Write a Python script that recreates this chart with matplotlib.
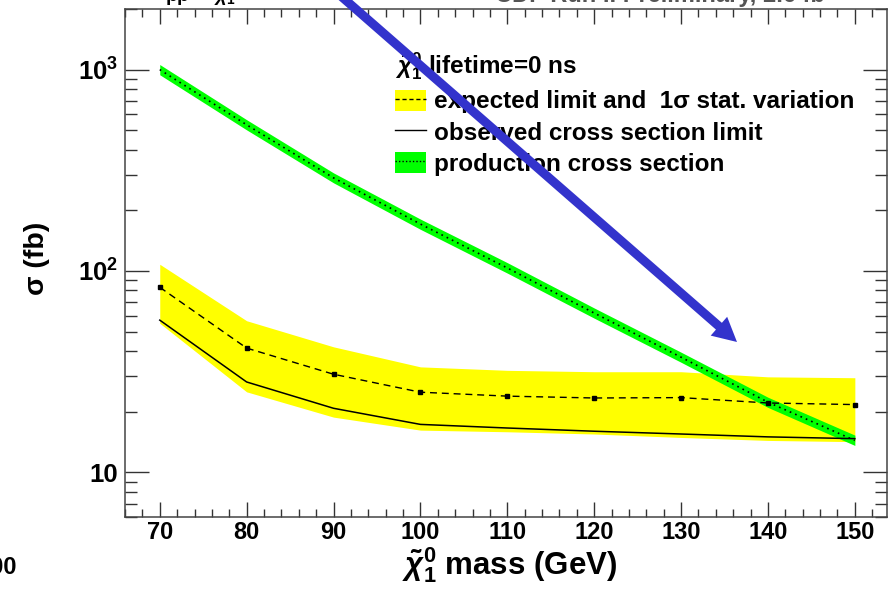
import matplotlib
matplotlib.use('Agg')
import matplotlib.pyplot as plt
import matplotlib.transforms as mtrans
from matplotlib.patches import Patch, FancyArrow
from matplotlib.lines import Line2D
from matplotlib.legend_handler import HandlerTuple
from matplotlib.ticker import FixedLocator, FuncFormatter, LogLocator, MultipleLocator, NullFormatter
import numpy as np

plt.rcParams['font.family'] = ['Liberation Sans', 'DejaVu Sans']
plt.rcParams['font.weight'] = 'bold'
plt.rcParams['axes.labelweight'] = 'bold'
plt.rcParams['mathtext.fontset'] = 'custom'
plt.rcParams['mathtext.rm'] = 'Liberation Sans:bold'
plt.rcParams['mathtext.bf'] = 'Liberation Sans:bold'
plt.rcParams['mathtext.it'] = 'Liberation Sans:italic'
plt.rcParams['mathtext.default'] = 'bf'

# neutralino mass (GeV) and cross sections (fb)
mass = [70, 80, 90, 100, 110, 120, 130, 140, 150]
expected = [83, 41.4, 30.7, 25.0, 23.9, 23.4, 23.5, 22.1, 21.7]
exp_hi = [108, 56.6, 42, 33.4, 32.1, 31.6, 31.6, 29.8, 29.5]
exp_lo = [55, 25.1, 18.8, 16.2, 15.9, 15.5, 14.9, 14.4, 14.2]
observed = [57, 28.1, 20.8, 17.3, 16.6, 16.0, 15.5, 15.0, 14.7]
prod = [1000, 532, 290, 171, 103.5, 61.8, 37.3, 22.3, 14.4]
prod_hi = [1060, 564, 307, 181, 110, 65.5, 39.5, 23.6, 15.3]
prod_lo = [943, 502, 274, 161, 97.6, 58.3, 35.2, 21.0, 13.6]

labels = ['expected limit and  1σ stat. variation',
          'observed cross section limit',
          'production cross section']
legend_title = r'$\mathit{\tilde{\chi}}_{1}^{0}$ lifetime=0 ns'

fig = plt.figure(figsize=(8.91, 5.99), dpi=100)
ax = fig.add_axes([125/891, 82/599, 762/891, 508/599])

ax.fill_between(mass, exp_lo, exp_hi, color='#ffff00', lw=0, zorder=1)
ax.plot(mass, expected, color='black', lw=1, ls=(0, (5, 3.5)), marker='s', ms=3, zorder=3)
ax.plot(mass, observed, color='black', lw=1.1, zorder=3)
ax.fill_between(mass, prod_lo, prod_hi, color='#00ff00', lw=0, zorder=2)
ax.plot(mass, prod, color='black', lw=1.2, ls=(0, (1, 2.5)), zorder=4)

ax.set_yscale('log')
ax.set_xlim(66, 153.7)
ax.set_ylim(6, 2000)

ax.xaxis.set_major_locator(MultipleLocator(10))
ax.xaxis.set_minor_locator(MultipleLocator(2))
ax.yaxis.set_major_locator(FixedLocator([10, 100, 1000]))
ax.yaxis.set_minor_locator(LogLocator(base=10, subs=np.arange(2, 10)))
ax.yaxis.set_minor_formatter(NullFormatter())
ax.yaxis.set_major_formatter(FuncFormatter(
    lambda v, p: '10' if round(v) == 10 else r'$10^{%d}$' % round(np.log10(v))))

ax.tick_params(axis='x', which='major', direction='in', length=11, width=1,
               top=True, labelsize=17, pad=3, color='#333333')
ax.tick_params(axis='x', which='minor', direction='in', length=6, width=1,
               top=True, color='#333333')
ax.tick_params(axis='y', which='major', direction='in', length=17, width=1,
               right=True, labelsize=18.5, pad=5, color='#333333')
ax.tick_params(axis='y', which='minor', direction='in', length=8.5, width=1,
               right=True, color='#333333')
for s in ax.spines.values():
    s.set_linewidth(1.1)
    s.set_color('#444444')

ax.set_xlabel(r'$\mathit{\tilde{\chi}}_{1}^{0}$ mass (GeV)', fontsize=22.5)
ax.xaxis.set_label_coords(0.505, -0.055)
ax.xaxis.label.set_va('top')
ax.set_ylabel('σ (fb)', fontsize=20.5)
ax.yaxis.set_label_coords(-0.098, 0.51)

h_exp = (Patch(facecolor='#ffff00', edgecolor='none'),
         Line2D([], [], color='black', lw=1, ls=(0, (3, 2))))
h_obs = Line2D([], [], color='black', lw=1)
h_prod = (Patch(facecolor='#00ff00', edgecolor='none'),
          Line2D([], [], color='black', lw=1, ls=(0, (1, 1.5))))
leg = ax.legend([h_exp, h_obs, h_prod], labels,
                handler_map={tuple: HandlerTuple(ndivide=1, pad=0)},
                title=legend_title, loc='upper left', bbox_to_anchor=(0.354, 0.918),
                frameon=False, fontsize=17.5, title_fontsize=17.5,
                handlelength=1.3, handleheight=0.95, handletextpad=0.3,
                labelspacing=0.3, borderpad=0, borderaxespad=0, alignment='left')
leg.set_zorder(5)

# cropped text at the edges of the original slide
fig.text(845/891, 1 - 2/599, 'CDF Run II Preliminary, 2.6 fb⁻¹',
         ha='right', va='baseline', fontsize=17, color='#555555')
fig.text(165/891, 1 - 2/599, r'pp$\rightarrow\mathit{\tilde{\chi}}_{1}$',
         ha='left', va='baseline', fontsize=14)
fig.text(17/891, 31/599, '200', ha='right', va='center', fontsize=17)

# blue arrow pointing at the crossing
start = (334, 599 + 10)
tip = (737, 599 - 342)
arrow = FancyArrow(start[0], start[1], tip[0] - start[0], tip[1] - start[1],
                   width=9, head_width=25, head_length=24, length_includes_head=True,
                   color='#3333cc', lw=0, transform=mtrans.IdentityTransform(), zorder=10)
fig.add_artist(arrow)

fig.savefig('out.png', dpi=100, facecolor='white')
